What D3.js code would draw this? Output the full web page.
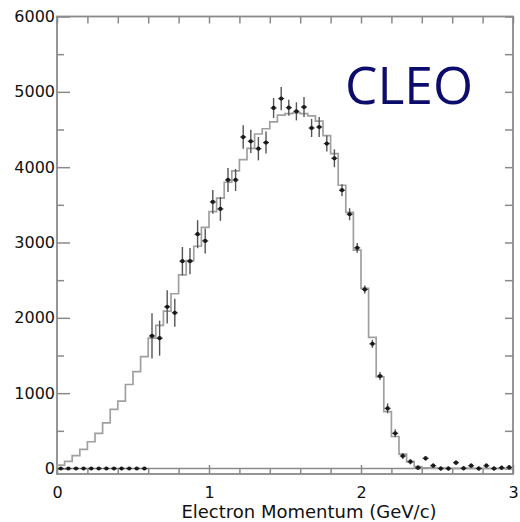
<!DOCTYPE html>
<html>
<head>
<meta charset="utf-8">
<script src="https://cdn.jsdelivr.net/npm/d3@7"></script>
<style>
  html, body { margin: 0; padding: 0; background: #ffffff; }
  svg { display: block; }
</style>
</head>
<body>
<script>
// ---- Data ----
// lower edge of each 0.05 GeV/c momentum bin
const binLowEdges = [
  0.00,0.05,0.10,0.15,0.20,0.25,0.30,0.35,0.40,0.45,
  0.50,0.55,0.60,0.65,0.70,0.75,0.80,0.85,0.90,0.95,
  1.00,1.05,1.10,1.15,1.20,1.25,1.30,1.35,1.40,1.45,
  1.50,1.55,1.60,1.65,1.70,1.75,1.80,1.85,1.90,1.95,
  2.00,2.05,2.10,2.15,2.20,2.25,2.30,2.35,2.40,2.45,
  2.50,2.55,2.60,2.65,2.70,2.75,2.80,2.85,2.90,2.95
];
const binWidth = 0.05;
// Monte Carlo prediction (histogram)
const histValues = [
  45,95,170,255,355,465,605,785,895,1115,
  1285,1485,1730,1900,2090,2320,2570,2760,2950,3200,
  3410,3590,3800,3950,4100,4250,4440,4510,4600,4690,
  4710,4720,4710,4680,4610,4420,4180,3760,3400,2900,
  2390,1740,1215,755,425,190,90,25,10,6,
  4,3,2,2,1,1,0,0,0,0
];
// measured electron yield
const dataValues = [
  0,0,0,0,0,0,0,0,0,0,
  0,0,1760,1730,2146,2067,2752,2752,3110,3021,
  3539,3446,3830,3830,4400,4343,4246,4326,4786,4910,
  4790,4741,4798,4520,4533,4313,4118,3694,3375,2929,
  2377,1655,1227,798,467,166,90,11,135,37,
  0,0,77,3,37,0,37,0,10,15
];
const dataErrors = [
  0,0,0,0,0,0,0,0,0,0,
  0,0,300,232,220,186,188,175,186,166,
  159,159,159,146,155,155,155,146,133,155,
  106,120,133,120,133,106,119,80,80,66,
  53,53,53,66,53,40,35,30,30,30,
  30,30,30,30,30,30,30,30,30,30
];
const yMajorTicks = [0,1000,2000,3000,4000,5000,6000];
const yMinorTicks = [500,1500,2500,3500,4500,5500];
const xMajorTicks = [0,1,2,3];
const xMinorTicks = [0.2,0.4,0.6,0.8,1.2,1.4,1.6,1.8,2.2,2.4,2.6,2.8];
const xTitle = "Electron Momentum (GeV/c)";
const experimentLabel = "CLEO";

// ---- Drawing ----
(function () {
const W = 520, H = 522;
const mL = 57, mR = 513, mT = 16.5, mB = 474;
const svg = d3.select("body").append("svg").attr("width", W).attr("height", H);

const x = d3.scaleLinear().domain([0, 3]).range([mL, mR]);
const y = d3.scaleLinear().domain([-73, 6000]).range([mB, mT]);

const axisColor = "#8a8a8a";
const font = "'DejaVu Sans', Verdana, sans-serif";

function styleAxis(g, showText) {
  g.select(".domain").remove();
  g.selectAll(".tick line").attr("stroke", axisColor).attr("stroke-width", 1.5);
  g.selectAll(".tick text")
    .attr("fill", showText ? "#111" : "none")
    .style("font-family", font)
    .style("font-size", "16px");
}

// zero line
svg.append("line")
  .attr("x1", x(0)).attr("x2", x(3))
  .attr("y1", y(0)).attr("y2", y(0))
  .attr("stroke", axisColor).attr("stroke-width", 1.5);

// left axis
svg.append("g").attr("transform", `translate(${mL},0)`)
  .call(d3.axisLeft(y).tickValues(yMajorTicks).tickSize(-13).tickPadding(2).tickFormat(d3.format("d")))
  .call(g => styleAxis(g, true));
svg.append("g").attr("transform", `translate(${mL},0)`)
  .call(d3.axisLeft(y).tickValues(yMinorTicks).tickSize(-7).tickFormat(""))
  .call(g => styleAxis(g, false));
// right axis
svg.append("g").attr("transform", `translate(${mR},0)`)
  .call(d3.axisRight(y).tickValues(yMajorTicks.concat(yMinorTicks)).tickSize(-8).tickFormat(""))
  .call(g => styleAxis(g, false));
// bottom axis
svg.append("g").attr("transform", `translate(0,${mB})`)
  .call(d3.axisBottom(x).tickValues(xMajorTicks).tickSize(-9).tickPadding(13).tickFormat(d3.format("d")))
  .call(g => styleAxis(g, true));
svg.append("g").attr("transform", `translate(0,${mB})`)
  .call(d3.axisBottom(x).tickValues(xMinorTicks).tickSize(-6).tickFormat(""))
  .call(g => styleAxis(g, false));
// top axis
svg.append("g").attr("transform", `translate(0,${mT})`)
  .call(d3.axisTop(x).tickValues(xMajorTicks.concat(xMinorTicks)).tickSize(-7).tickFormat(""))
  .call(g => styleAxis(g, false));

// frame
svg.append("rect")
  .attr("x", mL).attr("y", mT)
  .attr("width", mR - mL).attr("height", mB - mT)
  .attr("fill", "none").attr("stroke", axisColor).attr("stroke-width", 1.8);

// histogram (step line)
const stepPts = [[0, 0]];
binLowEdges.forEach((e, i) => stepPts.push([e, histValues[i]]));
stepPts.push([binLowEdges[binLowEdges.length - 1] + binWidth, histValues[histValues.length - 1]]);
const stepLine = d3.line().x(d => x(d[0])).y(d => y(d[1])).curve(d3.curveStepAfter);
svg.append("path")
  .attr("d", stepLine(stepPts))
  .attr("fill", "none")
  .attr("stroke", "#a0a0a0")
  .attr("stroke-width", 1.7);

// data points with error bars
const pts = binLowEdges.map((e, i) => ({ c: e + binWidth / 2, v: dataValues[i], err: dataErrors[i] }));
const pg = svg.append("g");
pg.selectAll("line.err").data(pts.filter(d => d.err > 0)).join("line")
  .attr("class", "err")
  .attr("x1", d => x(d.c)).attr("x2", d => x(d.c))
  .attr("y1", d => y(d.v - d.err)).attr("y2", d => y(d.v + d.err))
  .attr("stroke", "#555").attr("stroke-width", 1.4);
pg.selectAll("line.hbar").data(pts).join("line")
  .attr("class", "hbar")
  .attr("x1", d => x(d.c) - 3).attr("x2", d => x(d.c) + 3)
  .attr("y1", d => y(d.v)).attr("y2", d => y(d.v))
  .attr("stroke", "#333").attr("stroke-width", 1.2);
pg.selectAll("circle").data(pts).join("circle")
  .attr("cx", d => x(d.c)).attr("cy", d => y(d.v))
  .attr("r", 2.1).attr("fill", "#1a1a1a");

// axis title
svg.append("text")
  .attr("x", 309).attr("y", 518)
  .attr("text-anchor", "middle")
  .style("font-family", font).style("font-size", "18px")
  .attr("fill", "#111")
  .text(xTitle);

// experiment label
svg.append("text")
  .attr("x", 345).attr("y", 104)
  .style("font-family", "'Open Sans', sans-serif").style("font-size", "51.5px")
  .attr("fill", "#0c0c6c")
  .text(experimentLabel);
})();
</script>
</body>
</html>
